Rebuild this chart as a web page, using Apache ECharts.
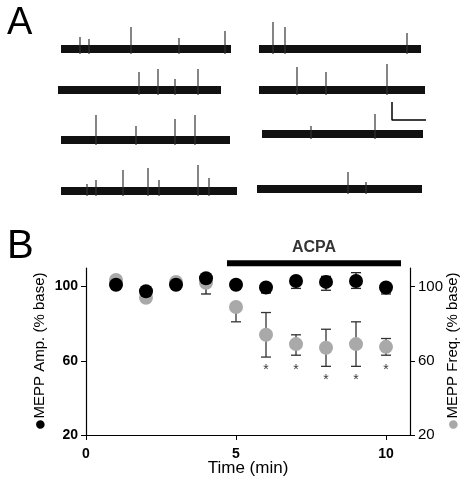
<!DOCTYPE html>
<html><head><meta charset="utf-8">
<script src="https://cdn.jsdelivr.net/npm/echarts@6/dist/echarts.min.js"></script>
<style>html,body{margin:0;padding:0;background:#fff}#c{width:464px;height:482px}</style>
</head><body><div id="c"></div>
<script>
// Panel B data
const time = [1,2,3,4,5,6,7,8,9,10];
const ampMean = [101,97.5,101,104.5,101,99.5,103,102.5,103,99.5];
const ampLow  = [101,97.5,101,96,101,96.5,99,98,99,96];
const ampHigh = [101,97.5,101,104.5,101,101,103,105.5,107.5,101];
const freqMean = [103.5,94,102.5,102,89,74,69,67,69,67.5];
const freqLow  = [103.5,94,102.5,102,81,62,63,57,57,63];
const freqHigh = [103.5,94,102.5,102,89,86,74,77,81,72];
const starTimes = [6,7,8,9,10];
const starLevels = [55,55,49.5,49.5,55];
const drugStart = 4.7, drugEnd = 10.5, drugLevel = 112.5;

// Panel A traces
const traceStart = [61,259,58,259,61,262,61,257];
const traceEnd   = [231,421,221,425,230,423,237,422];
const traceBase  = [49,49,90,90,140,134,191,189];
const traceSpikes = [
  [[80,37],[89,39],[131,27],[179,38],[225,31]],
  [[273,22],[285,27],[407,33]],
  [[139,72],[158,69],[175,79],[198,69]],
  [[297,67],[326,72],[387,64]],
  [[96,115],[136,126],[175,119],[195,115]],
  [[311,126],[375,114]],
  [[87,184],[96,180],[123,170],[148,168],[159,180],[198,165],[209,178]],
  [[348,172],[366,182]]
];
const scaleBar = [[392,102],[392,120],[426,120]];

const series = [];
traceStart.forEach((s,i)=>{
  series.push({type:'line',xAxisIndex:0,yAxisIndex:0,symbol:'none',silent:true,
    data:[[s,traceBase[i]],[traceEnd[i],traceBase[i]]],lineStyle:{color:'#111',width:8}});
  const d=[];
  traceSpikes[i].forEach(p=>{d.push([p[0],traceBase[i]+5]);d.push(p);d.push(null);});
  series.push({type:'line',xAxisIndex:0,yAxisIndex:0,symbol:'none',silent:true,connectNulls:false,
    data:d,lineStyle:{color:'#333',width:1.2}});
});
series.push({type:'line',xAxisIndex:0,yAxisIndex:0,symbol:'none',data:scaleBar,lineStyle:{color:'#000',width:1.5}});

function errSeries(low,high,color,yi){
  return {type:'custom',xAxisIndex:1,yAxisIndex:yi,z:3,
    data:time.map((t,i)=>[t,low[i],high[i]]),
    renderItem:(p,api)=>{
      const a=api.coord([api.value(0),api.value(1)]),b=api.coord([api.value(0),api.value(2)]);
      const w=5,st={stroke:color,lineWidth:1.3};
      return {type:'group',children:[
        {type:'line',shape:{x1:a[0],y1:a[1],x2:b[0],y2:b[1]},style:st},
        {type:'line',shape:{x1:a[0]-w,y1:a[1],x2:a[0]+w,y2:a[1]},style:st},
        {type:'line',shape:{x1:b[0]-w,y1:b[1],x2:b[0]+w,y2:b[1]},style:st}]};
    }};
}
series.push(errSeries(freqLow,freqHigh,'#333',2));
series.push(errSeries(ampLow,ampHigh,'#222',1));
series.push({type:'scatter',xAxisIndex:1,yAxisIndex:2,z:4,symbolSize:14,data:time.map((t,i)=>[t,freqMean[i]]),itemStyle:{color:'#a9a9a9',opacity:1}});
series.push({type:'scatter',xAxisIndex:1,yAxisIndex:1,z:5,symbolSize:14,data:time.map((t,i)=>[t,ampMean[i]]),itemStyle:{color:'#000',opacity:1}});
series.push({type:'scatter',xAxisIndex:1,yAxisIndex:1,symbolSize:1,itemStyle:{color:'rgba(0,0,0,0)'},data:starTimes.map((t,i)=>[t,starLevels[i]]),
  label:{show:true,formatter:'*',color:'#000',fontSize:14,position:'inside'}});
series.push({type:'line',xAxisIndex:1,yAxisIndex:1,symbol:'none',clip:false,
  data:[[drugStart,drugLevel],[drugEnd,drugLevel]],lineStyle:{color:'#000',width:6}});
series.push({type:'scatter',xAxisIndex:1,yAxisIndex:1,clip:false,symbolSize:1,itemStyle:{color:'rgba(0,0,0,0)'},
  data:[[(drugStart+drugEnd)/2,drugLevel]],
  label:{show:true,formatter:'ACPA',position:'inside',offset:[0,-16],fontSize:16,fontWeight:'bold',color:'#000',fontFamily:'Liberation Sans'}});

const ax={axisLine:{lineStyle:{color:'#000',width:1.2}},axisTick:{length:5,lineStyle:{color:'#000'}},splitLine:{show:false},
  axisLabel:{color:'#000',fontWeight:'bold',fontSize:14,fontFamily:'Liberation Sans'}};
const nameStyle={fontSize:15,color:'#000',fontFamily:'Liberation Sans'};
const chart=echarts.init(document.getElementById('c'));
chart.setOption({
  animation:false,
  title:[{text:'A',left:2,top:0,textStyle:{fontSize:38,fontWeight:'normal',color:'#000',fontFamily:'Liberation Sans'}},
         {text:'B',left:2,top:222,textStyle:{fontSize:40,fontWeight:'normal',color:'#000',fontFamily:'Liberation Sans'}}],
  grid:[{left:0,top:0,width:464,height:210,outerBoundsMode:'none'},{left:86,top:268,width:324,height:167,outerBoundsMode:'none',containLabel:false}],
  xAxis:[{gridIndex:0,type:'value',min:0,max:464,show:false},
    Object.assign({gridIndex:1,type:'value',min:0,max:10.8,interval:5,name:'Time (min)',nameLocation:'middle',nameGap:25,nameMoveOverlap:false,
      nameTextStyle:{fontSize:17,color:'#000',fontFamily:'Liberation Sans'}},ax,{axisLabel:Object.assign({},ax.axisLabel,{showMaxLabel:false,margin:12})})],
  yAxis:[{gridIndex:0,type:'value',min:0,max:210,inverse:true,show:false},
    Object.assign({gridIndex:1,type:'value',min:20,max:110,interval:40,name:'{b|●}MEPP Amp. (% base)',nameLocation:'middle',nameGap:36,nameRotate:90,nameMoveOverlap:false,
      nameTextStyle:Object.assign({rich:{b:{fontSize:20,color:'#000'}}},nameStyle)},ax,{axisLabel:Object.assign({},ax.axisLabel,{showMaxLabel:false})}),
    Object.assign({gridIndex:1,type:'value',position:'right',min:20,max:110,interval:40,name:'{g|●}MEPP Freq. (% base)',nameLocation:'middle',nameGap:33,nameRotate:90,nameMoveOverlap:false,
      nameTextStyle:Object.assign({rich:{g:{fontSize:20,color:'#a9a9a9'}}},nameStyle)},ax,{axisLabel:Object.assign({},ax.axisLabel,{showMaxLabel:false,fontWeight:'normal',fontSize:15})})],
  series
});
</script></body></html>
